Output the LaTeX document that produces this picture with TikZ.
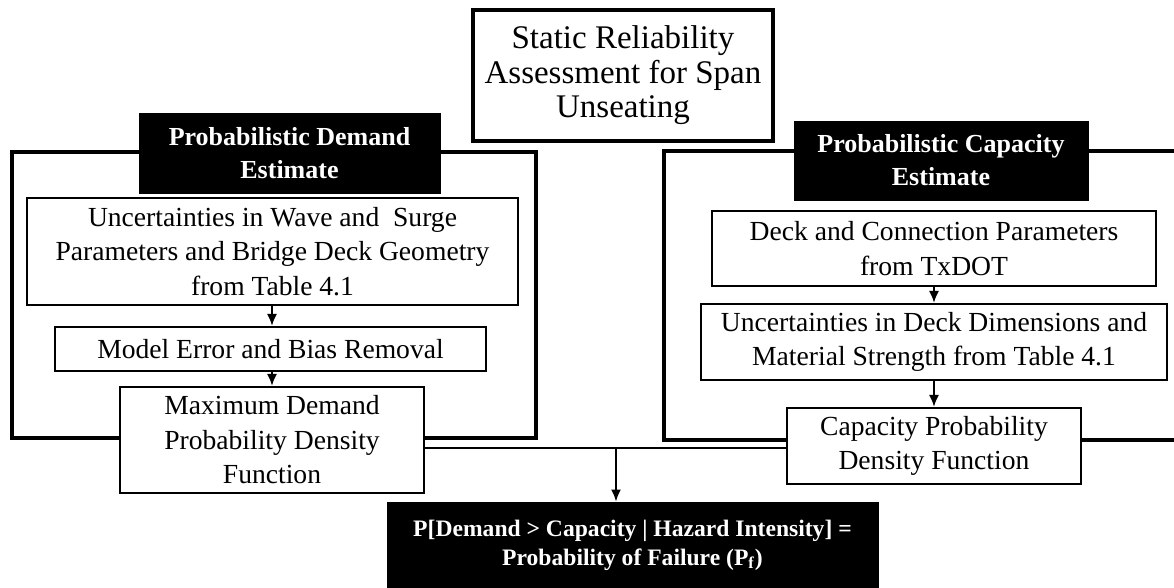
\documentclass[tikz,border=0pt]{standalone}
\usepackage{fontspec}
\setmainfont{Liberation Serif}
\usetikzlibrary{arrows.meta}
\tikzset{
  box/.style={draw, line width=1pt, fill=white, align=center, inner sep=0pt,
    font=\fontsize{13.8}{17.25}\selectfont},
  head/.style={draw=black, fill=black, text=white, align=center, inner sep=0pt,
    font=\fontsize{13}{16.5}\selectfont\bfseries},
  frame/.style={draw, line width=1.8pt},
  arr/.style={line width=1pt, -{Latex[length=6pt,width=5pt]}},
  link/.style={line width=1pt}
}
\begin{document}
\begin{tikzpicture}[x=0.5pt,y=-0.5pt]
\useasboundingbox (0,0) rectangle (1174,588);
% frames
\draw[frame] (12,152) rectangle (536,438);
\coordinate (cfTL) at (664,151);
\coordinate (cfBL) at (664,440);
\draw[frame] (1174,151) -- (cfTL) -- (cfBL) -- (1174,440);
% title
\node[box, line width=1.8pt, minimum width=150pt, minimum height=65.5pt,
      font=\fontsize{16.5}{17.25}\selectfont] (title) at (623,75.5)
  {Static Reliability\\Assessment for Span\\Unseating};
% demand side
\node[head, minimum width=150.5pt, minimum height=40pt] (dem) at (289.5,153)
  {Probabilistic Demand\\Estimate};
\node[box, minimum width=245.5pt, minimum height=53.5pt] (unc1) at (272.5,251.5)
  {Uncertainties in Wave and\ \ Surge\\Parameters and Bridge Deck Geometry\\from Table 4.1};
\node[box, minimum width=215.5pt, minimum height=22pt] (model) at (270.5,349)
  {Model Error and Bias Removal};
\node[box, minimum width=152pt, minimum height=53pt] (maxd) at (272,440)
  {Maximum Demand\\Probability Density\\Function};
% capacity side
\node[head, minimum width=147pt, minimum height=39.5pt] (cap) at (941,160.5)
  {Probabilistic Capacity\\Estimate};
\node[box, minimum width=222pt, minimum height=37.5pt] (deck) at (934,248.5)
  {Deck and Connection Parameters\\from TxDOT};
\node[box, minimum width=233pt, minimum height=38pt] (unc2) at (934,342)
  {Uncertainties in Deck Dimensions and\\Material Strength from Table 4.1};
\node[box, minimum width=147pt, minimum height=38pt] (cpdf) at (934,446)
  {Capacity Probability\\Density Function};
% result
\node[head, minimum width=245.5pt, minimum height=43pt, font=\fontsize{11.8}{14.5}\selectfont\bfseries] (pf) at (632.5,545)
  {P[Demand > Capacity | Hazard Intensity] =\\Probability of Failure (P\textsubscript{f})};
% connectors
\draw[arr] (unc1.south -| 272,0) -- (model.north -| 272,0);
\draw[arr] (model.south -| 272,0) -- (maxd.north -| 272,0);
\draw[arr] (deck.south) -- (unc2.north);
\draw[arr] (unc2.south) -- (cpdf.north);
\coordinate (j) at (616,448);
\draw[link] (maxd.east |- j) -- (cpdf.west |- j);
\draw[arr] (j) -- (pf.north -| j);
\end{tikzpicture}
\end{document}
